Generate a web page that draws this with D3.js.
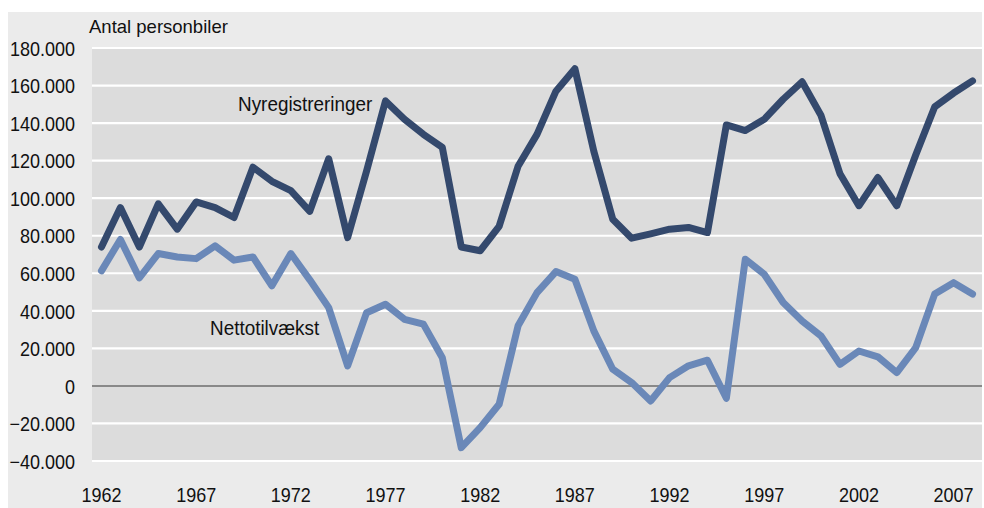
<!DOCTYPE html>
<html><head><meta charset="utf-8">
<script src="https://cdn.jsdelivr.net/npm/d3@7"></script>
<style>
html,body{margin:0;padding:0;background:#fff;}
text{font-family:"Liberation Sans",Arial,sans-serif;fill:#111;}
</style></head>
<body><svg id="c" width="984" height="508"></svg>
<script>
const years = d3.range(1962, 2009);
const nyregistreringer = [74000,95000,74000,97000,83500,98000,95000,89700,116500,109000,104000,93000,121000,
  79000,114500,151800,142000,134000,127000,74000,72000,85000,117000,134000,157000,169000,125000,88800,78700,
  81000,83500,84400,81700,139000,136000,142000,152700,162000,144000,113000,96000,111000,96000,123000,148600,156000,162500];
const nettotilvaekst = [61300,78000,57500,70500,68700,67800,74600,67000,68700,53300,70500,56500,41700,
  10700,39000,43500,35500,32900,15000,-32900,-22200,-9800,32000,49700,60900,56800,29300,8900,1800,-8000,
  4400,10700,13700,-6600,67500,59500,44400,34600,26600,11500,18600,15500,7100,20400,48900,55000,48900];
const yTicks = [-40000,-20000,0,20000,40000,60000,80000,100000,120000,140000,160000,180000];
const xTickYears = [1962,1967,1972,1977,1982,1987,1992,1997,2002,2007];
const seriesNames = ["Nyregistreringer","Nettotilvækst"];
const unitLabel = "Antal personbiler";

const svg = d3.select("#c");
const L = 92, R = 982, T = 48, B = 461;
svg.append("rect").attr("x",8).attr("y",12).attr("width",974).attr("height",496).attr("fill","#ebebeb");
svg.append("rect").attr("x",L).attr("y",T).attr("width",R-L).attr("height",B-T).attr("fill","#dcdcdc");

const x = d3.scaleBand().domain(years).range([L,R]);
const xc = v => x(v) + x.bandwidth()/2;
const y = d3.scaleLinear().domain([-40000,180000]).range([B,T]);
const fmt = v => v===0 ? "0" : d3.format(",")(v).replace(/,/g,".");
const SX = 0.9;

// gridlines
svg.append("g").selectAll("line").data(yTicks.filter(d=>d!==0)).join("line")
  .attr("x1",L).attr("x2",R).attr("y1",d=>y(d)).attr("y2",d=>y(d))
  .attr("stroke","#fff").attr("stroke-width",2.2);
svg.append("line").attr("x1",L).attr("x2",R).attr("y1",y(0)).attr("y2",y(0))
  .attr("stroke","#6e6e6e").attr("stroke-width",1.5);

// y axis
const ya = svg.append("g").attr("transform",`translate(${L-17},0)`)
  .call(d3.axisLeft(y).tickValues(yTicks).tickFormat(fmt).tickSize(0).tickPadding(0));
ya.select(".domain").remove();
ya.selectAll("text").attr("font-size",20).attr("dy","0.36em").attr("transform",`scale(${SX},1)`)
  .style("font-family",'"Liberation Sans",Arial,sans-serif').attr("fill","#111");

// x axis
const xa = svg.append("g").attr("transform",`translate(0,${B+34})`)
  .call(d3.axisBottom(x).tickValues(xTickYears).tickSize(0).tickPadding(0));
xa.select(".domain").remove();
xa.selectAll("text").attr("font-size",20).attr("dy","0.36em").attr("transform",`scale(${SX},1)`)
  .style("font-family",'"Liberation Sans",Arial,sans-serif').attr("fill","#111");

const line = d3.line().x((d,i)=>xc(years[i])).y(d=>y(d)).curve(d3.curveLinear);
svg.append("path").datum(nettotilvaekst).attr("d",line).attr("fill","none")
  .attr("stroke","#6a88b8").attr("stroke-width",7).attr("stroke-linejoin","round").attr("stroke-linecap","round");
svg.append("path").datum(nyregistreringer).attr("d",line).attr("fill","none")
  .attr("stroke","#34496d").attr("stroke-width",7).attr("stroke-linejoin","round").attr("stroke-linecap","round");

function label(txt, x0, y0, fs, sx){
  svg.append("text").attr("transform",`translate(${x0},${y0}) scale(${sx},1)`)
    .attr("font-size",fs).text(txt);
}
label(unitLabel, 89, 33, 18.5, 1);
label(seriesNames[0], 238, 111, 21, SX);
label(seriesNames[1], 210, 335, 21, SX);
</script></body></html>
